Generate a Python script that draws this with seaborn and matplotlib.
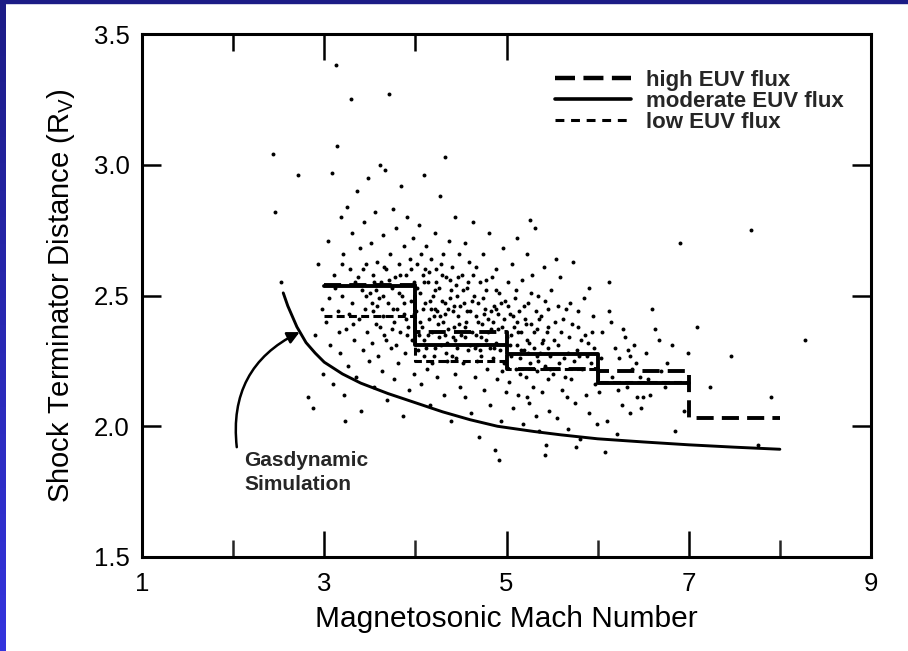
import numpy as np
import pandas as pd
import matplotlib
matplotlib.use("Agg")
import matplotlib.pyplot as plt
from matplotlib.lines import Line2D
import seaborn as sns

sns.set_theme(style="ticks")
plt.rcParams['font.family'] = ['Liberation Sans', 'DejaVu Sans']

# step curves: bin edges in Mach number and mean distance per bin
high_edges = [3, 4, 5, 6, 7, 8]
high_vals = [2.54, 2.36, 2.22, 2.21, 2.03]
mod_edges = [3, 4, 5, 6, 7]
mod_vals = [2.535, 2.31, 2.275, 2.165]
low_edges = [3, 4, 5, 6, 7]
low_vals = [2.42, 2.25, 2.22, 2.17]

# gasdynamic simulation curve
gas_x = [2.55, 2.60, 2.65, 2.70, 2.80, 2.90, 3.00, 3.20, 3.40, 3.70, 4.00, 4.30, 4.60, 4.90, 5.30, 5.60, 6.00, 6.50, 7.00, 7.50, 8.00]
gas_y = [2.51, 2.46, 2.42, 2.38, 2.32, 2.28, 2.245, 2.20, 2.165, 2.125, 2.09, 2.055, 2.025, 2.00, 1.98, 1.967, 1.952, 1.94, 1.929, 1.92, 1.912]

# individual crossings (Mach number, distance)
dots = [
    (2.44, 3.04), (2.46, 2.82), (2.52, 2.55), (2.71, 2.96), (2.82, 2.11), (2.88, 2.07), (2.90, 2.35),
    (2.93, 2.62), (2.97, 2.45), (2.99, 2.20),
    (3.02, 2.40), (3.04, 2.71), (3.06, 2.31), (3.08, 2.97), (3.10, 2.16), (3.11, 2.58), (3.13, 3.38),
    (3.14, 3.07), (3.15, 2.44), (3.17, 2.28), (3.18, 2.80), (3.20, 2.50), (3.21, 2.66), (3.22, 2.12),
    (3.24, 2.37), (3.25, 2.84), (3.26, 2.23), (3.28, 2.60), (3.29, 3.25), (3.30, 2.47), (3.31, 2.74),
    (3.33, 2.33), (3.34, 2.55), (3.35, 2.19), (3.36, 2.90), (3.38, 2.41), (3.39, 2.68), (3.40, 2.06),
    (3.41, 2.52), (3.43, 2.29), (3.44, 2.78), (3.45, 2.45), (3.46, 2.62), (3.47, 2.36), (3.48, 2.95),
    (3.49, 2.25), (3.12, 2.53), (3.27, 2.43), (3.37, 2.57), (3.23, 2.02),
    (3.05, 2.49), (3.16, 2.36), (3.19, 2.62), (3.32, 2.39), (3.42, 2.60), (3.46, 2.50),
    (3.50, 2.51), (3.51, 2.70), (3.52, 2.32), (3.53, 2.58), (3.54, 2.44), (3.55, 2.15), (3.56, 2.82),
    (3.57, 2.39), (3.58, 2.63), (3.59, 2.27), (3.60, 2.49), (3.61, 3.00), (3.62, 2.55), (3.63, 2.21),
    (3.64, 2.73), (3.65, 2.42), (3.66, 2.35), (3.67, 2.98), (3.68, 2.60), (3.69, 2.10), (3.70, 2.47),
    (3.71, 3.27), (3.72, 2.66), (3.73, 2.30), (3.74, 2.53), (3.75, 2.83), (3.76, 2.40), (3.77, 2.18),
    (3.78, 2.57), (3.79, 2.76), (3.80, 2.45), (3.81, 2.24), (3.82, 2.62), (3.83, 2.36), (3.84, 2.92),
    (3.85, 2.50), (3.86, 2.04), (3.87, 2.69), (3.88, 2.43), (3.89, 2.28), (3.90, 2.58), (3.91, 2.80),
    (3.92, 2.38), (3.93, 2.14), (3.94, 2.64), (3.95, 2.48), (3.96, 2.33), (3.97, 2.72), (3.98, 2.55),
    (3.99, 2.20), (3.58, 2.46), (3.66, 2.61), (3.74, 2.37), (3.82, 2.51), (3.90, 2.41), (3.55, 2.55),
    (3.52, 2.47), (3.57, 2.52), (3.61, 2.38), (3.64, 2.50), (3.68, 2.33), (3.71, 2.56), (3.75, 2.45),
    (3.79, 2.31), (3.83, 2.58), (3.87, 2.47), (3.91, 2.35), (3.95, 2.60), (3.98, 2.43),
    (4.01, 2.44), (4.02, 2.62), (4.03, 2.29), (4.04, 2.77), (4.05, 2.51), (4.06, 2.16), (4.07, 2.38),
    (4.08, 2.58), (4.09, 2.96), (4.10, 2.33), (4.11, 2.47), (4.12, 2.69), (4.13, 2.22), (4.14, 2.55),
    (4.15, 2.41), (4.16, 2.08), (4.17, 2.64), (4.18, 2.36), (4.19, 2.50), (4.20, 2.27), (4.21, 2.74),
    (4.22, 2.45), (4.23, 2.60), (4.24, 2.19), (4.25, 2.39), (4.26, 2.53), (4.27, 2.88), (4.28, 2.31),
    (4.29, 2.48), (4.30, 2.66), (4.31, 2.12), (4.32, 2.43), (4.33, 3.03), (4.34, 2.57), (4.35, 2.25),
    (4.36, 2.37), (4.37, 2.71), (4.38, 2.49), (4.39, 2.02), (4.40, 2.61), (4.41, 2.34), (4.42, 2.46),
    (4.43, 2.20), (4.44, 2.80), (4.45, 2.54), (4.46, 2.30), (4.47, 2.42), (4.48, 2.66), (4.49, 2.15),
    (4.04, 2.35), (4.08, 2.45), (4.12, 2.30), (4.15, 2.59), (4.18, 2.24), (4.22, 2.52), (4.26, 2.34),
    (4.30, 2.40), (4.34, 2.28), (4.38, 2.56), (4.42, 2.38), (4.46, 2.50), (4.10, 2.55), (4.20, 2.42),
    (4.28, 2.62), (4.36, 2.45), (4.44, 2.33), (4.06, 2.66), (4.16, 2.48), (4.24, 2.44), (4.32, 2.35),
    (4.40, 2.27), (4.48, 2.39),
    (4.02, 2.53), (4.05, 2.40), (4.09, 2.27), (4.11, 2.60), (4.14, 2.35), (4.17, 2.45), (4.21, 2.30),
    (4.23, 2.55), (4.27, 2.42), (4.29, 2.58), (4.33, 2.47), (4.35, 2.32), (4.39, 2.52), (4.41, 2.44),
    (4.45, 2.26), (4.47, 2.57), (4.49, 2.46),
    (4.50, 2.35), (4.51, 2.58), (4.52, 2.24), (4.53, 2.47), (4.54, 2.70), (4.55, 2.11), (4.56, 2.40),
    (4.57, 2.53), (4.58, 2.29), (4.59, 2.63), (4.60, 2.44), (4.61, 2.05), (4.62, 2.36), (4.63, 2.78),
    (4.64, 2.50), (4.65, 2.19), (4.66, 2.42), (4.67, 2.61), (4.68, 2.31), (4.69, 2.47), (4.70, 1.96),
    (4.71, 2.55), (4.72, 2.27), (4.73, 2.39), (4.74, 2.66), (4.75, 2.14), (4.76, 2.45), (4.77, 2.33),
    (4.78, 2.52), (4.79, 2.22), (4.80, 2.41), (4.81, 2.74), (4.82, 2.08), (4.83, 2.37), (4.84, 2.57),
    (4.85, 2.26), (4.86, 2.46), (4.87, 1.91), (4.88, 2.32), (4.89, 2.60), (4.90, 2.18), (4.91, 2.43),
    (4.92, 2.51), (4.93, 2.29), (4.94, 2.02), (4.95, 2.38), (4.96, 2.68), (4.97, 2.24), (4.98, 2.48),
    (4.99, 2.13), (4.55, 2.34), (4.62, 2.48), (4.68, 2.25), (4.75, 2.43), (4.82, 2.30), (4.88, 2.45),
    (4.95, 2.21), (4.58, 2.55), (4.72, 2.34), (4.85, 2.40), (4.92, 1.87), (4.65, 2.30),
    (4.52, 2.52), (4.54, 2.38), (4.57, 2.44), (4.60, 2.31), (4.63, 2.58), (4.66, 2.35), (4.69, 2.40),
    (4.71, 2.29), (4.74, 2.49), (4.77, 2.56), (4.80, 2.36), (4.83, 2.44), (4.86, 2.30), (4.89, 2.52),
    (4.91, 2.37), (4.94, 2.47), (4.97, 2.41),
    (5.01, 2.34), (5.02, 2.55), (5.03, 2.17), (5.04, 2.43), (5.05, 2.27), (5.06, 2.62), (5.07, 2.07),
    (5.08, 2.38), (5.09, 2.49), (5.10, 2.22), (5.11, 2.31), (5.12, 2.72), (5.13, 2.12), (5.14, 2.44),
    (5.15, 2.26), (5.16, 2.36), (5.17, 2.56), (5.18, 2.01), (5.19, 2.29), (5.20, 2.41), (5.21, 2.19),
    (5.22, 2.66), (5.23, 2.33), (5.24, 2.47), (5.25, 2.09), (5.26, 2.24), (5.27, 2.39), (5.28, 2.58),
    (5.29, 2.15), (5.30, 2.30), (5.31, 2.76), (5.32, 2.04), (5.33, 2.37), (5.34, 2.21), (5.35, 2.50),
    (5.36, 1.98), (5.37, 2.28), (5.38, 2.42), (5.39, 2.13), (5.40, 2.33), (5.41, 2.61), (5.42, 2.23),
    (5.43, 1.93), (5.44, 2.36), (5.45, 2.18), (5.46, 2.45), (5.47, 2.06), (5.48, 2.27), (5.49, 2.52),
    (5.05, 2.35), (5.15, 2.20), (5.25, 2.32), (5.35, 2.25), (5.45, 2.30), (5.12, 2.40), (5.32, 2.44),
    (5.22, 2.11), (5.42, 1.89), (5.26, 2.79),
    (5.02, 2.46), (5.04, 2.31), (5.07, 2.42), (5.10, 2.52), (5.13, 2.36), (5.16, 2.29), (5.19, 2.46),
    (5.21, 2.39), (5.24, 2.28), (5.27, 2.51), (5.30, 2.36), (5.33, 2.27), (5.36, 2.41), (5.39, 2.32),
    (5.42, 2.48), (5.45, 2.38), (5.48, 2.22),
    (5.51, 2.20), (5.53, 2.40), (5.55, 2.03), (5.57, 2.31), (5.59, 2.57), (5.61, 2.14), (5.63, 2.26),
    (5.65, 2.45), (5.67, 1.99), (5.69, 2.34), (5.71, 2.18), (5.73, 2.63), (5.75, 2.09), (5.77, 2.29),
    (5.79, 2.38), (5.81, 1.95), (5.83, 2.22), (5.85, 2.49), (5.87, 2.12), (5.89, 2.32), (5.91, 2.05),
    (5.93, 2.24), (5.95, 2.42), (5.97, 2.16), (5.99, 2.01), (5.60, 2.36), (5.70, 2.47), (5.80, 2.27),
    (5.90, 2.53), (5.66, 2.11), (5.86, 2.35), (5.76, 1.92), (5.96, 2.30), (5.54, 2.64),
    (5.52, 2.33), (5.56, 2.46), (5.58, 2.24), (5.62, 2.41), (5.64, 2.19), (5.68, 2.28), (5.72, 2.39),
    (5.74, 2.25), (5.78, 2.44), (5.82, 2.33), (5.88, 2.27), (5.94, 2.36),
    (6.02, 2.13), (6.05, 2.36), (6.08, 1.90), (6.10, 2.02), (6.13, 2.44), (6.16, 2.19), (6.19, 2.30),
    (6.21, 1.97), (6.24, 2.26), (6.27, 2.08), (6.30, 2.34), (6.32, 2.15), (6.35, 2.05), (6.38, 2.22),
    (6.40, 2.31), (6.43, 2.11), (6.46, 2.19), (6.48, 2.07), (6.12, 2.55), (6.33, 2.29), (6.50, 2.11),
    (6.04, 2.26), (6.15, 2.40), (6.22, 2.14), (6.28, 2.37), (6.36, 2.27), (6.42, 2.24),
    (6.53, 2.28), (6.58, 2.12), (6.63, 2.37), (6.70, 2.21), (6.76, 2.24), (6.82, 2.31), (6.90, 2.70),
    (6.95, 2.06), (6.60, 2.45), (6.85, 1.98), (6.99, 2.28), (6.55, 2.18), (6.67, 2.33), (6.74, 2.15),
    (7.09, 2.38), (7.23, 2.15), (7.46, 2.27), (7.68, 2.75), (7.76, 1.93), (7.90, 2.11), (8.28, 2.33),
]
dots_x = [d[0] for d in dots]
dots_y = [d[1] for d in dots]

legend_labels = ['high EUV flux', 'moderate EUV flux', 'low EUV flux']

fig = plt.figure(figsize=(9.08, 6.51), dpi=100)
fig.patch.set_facecolor('white')

# blue slide frame along the top and left edge
strip = fig.add_axes([0, 0, 6 / 908, 1])
grad = np.linspace(0, 1, 256).reshape(-1, 1)
blue = matplotlib.colors.LinearSegmentedColormap.from_list('slide', ['#1c1c86', '#3434de'])
strip.imshow(grad, aspect='auto', cmap=blue, extent=[0, 1, 0, 1], origin='upper')
strip.set_axis_off()
fig.patches.append(plt.Rectangle((0, 1 - 3 / 651), 1, 3 / 651, transform=fig.transFigure,
                                 color='#1c1c86', zorder=5))

ax = fig.add_axes([142 / 908, 94 / 651, 729 / 908, 523 / 651])
ax.set_facecolor('white')

sns.scatterplot(x=dots_x, y=dots_y, s=8, color='black', linewidth=0, ax=ax)

sns.lineplot(x=gas_x, y=gas_y, color='black', lw=2.1, estimator=None, sort=False, ax=ax)

sns.lineplot(x=high_edges, y=high_vals + high_vals[-1:], drawstyle='steps-post', color='black',
             lw=2.8, linestyle=(0, (4.4, 2.1)), estimator=None, sort=False, ax=ax)
sns.lineplot(x=mod_edges, y=mod_vals + mod_vals[-1:], drawstyle='steps-post', color='black',
             lw=2.8, estimator=None, sort=False, ax=ax)
sns.lineplot(x=low_edges, y=low_vals + low_vals[-1:], drawstyle='steps-post', color='black',
             lw=2.2, linestyle=(0, (2.6, 1.4)), estimator=None, sort=False, ax=ax)

ax.annotate('', xy=(2.73, 2.36), xytext=(2.04, 1.92),
            arrowprops=dict(arrowstyle='-|>', lw=1.8, color='black', mutation_scale=18,
                            connectionstyle='arc3,rad=-0.35', shrinkA=0, shrinkB=0))
ax.text(2.12, 1.823, 'Gasdynamic\nSimulation', ha='left', va='center', fontsize=15,
        fontweight='bold', linespacing=1.35)

handles = [Line2D([], [], color='black', lw=3.2, linestyle=(0, (4.5, 1.9))),
           Line2D([], [], color='black', lw=2.6),
           Line2D([], [], color='black', lw=2.2, linestyle=(0, (2.9, 2.2)))]
ax.legend(handles, legend_labels, loc='upper left', bbox_to_anchor=(0.5665, 0.932), frameon=False,
          borderpad=0, borderaxespad=0, handlelength=3.4, handletextpad=0.7, labelspacing=0.0,
          prop={'size': 16, 'weight': 'bold'})

ax.set_xlim(1, 9)
ax.set_ylim(1.5, 3.5)
ax.set_xticks([1, 3, 5, 7, 9])
ax.set_xticks([2, 4, 6, 8], minor=True)
ax.set_yticks([1.5, 2.0, 2.5, 3.0, 3.5])
ax.set_yticklabels(['1.5', '2.0', '2.5', '3.0', '3.5'])
ax.tick_params(axis='x', which='major', direction='in', length=19, width=1.8, top=False,
               labelsize=18.5, pad=11, colors='black')
ax.tick_params(axis='x', which='minor', direction='in', length=12, width=1.8, top=False)
ax.tick_params(axis='y', which='major', direction='in', length=14, width=1.8, right=True,
               labelsize=18.5, pad=9, colors='black')

# the scanned frame only shows top ticks from 2 to 5
top = ax.secondary_xaxis('top')
top.set_xticks([3, 5], labels=['', ''])
top.set_xticks([2, 4], minor=True)
top.tick_params(which='major', direction='in', length=19, width=1.8, colors='black')
top.tick_params(which='minor', direction='in', length=12, width=1.8, colors='black')
top.spines['top'].set_visible(False)

ax.set_xlabel('Magnetosonic Mach Number', fontsize=21.5, labelpad=6, color='black')
ax.set_ylabel(r'Shock Terminator Distance (R$_{\mathregular{V}}$)', fontsize=21, labelpad=12,
              color='black')
for sp in ax.spines.values():
    sp.set_visible(True)
    sp.set_color('black')
    sp.set_linewidth(2.2)

fig.savefig('out.png', dpi=100)
